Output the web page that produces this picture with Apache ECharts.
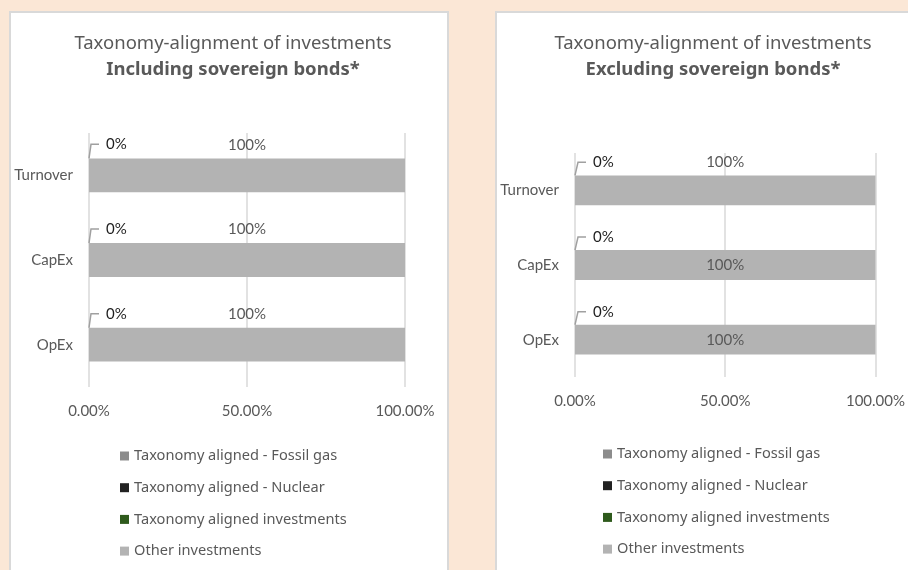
<!DOCTYPE html>
<html lang="en">
<head>
    <meta charset="UTF-8">
    <title>Taxonomy-alignment of investments</title>
    <script src="https://cdn.jsdelivr.net/npm/echarts@6/dist/echarts.min.js"></script>
    <style>
        html, body { margin: 0; padding: 0; }
        #main { width: 908px; height: 570px; }
    </style>
</head>
<body>
    <div id="main"></div>
    <script>
        // chart data
        var categories = ['Turnover', 'CapEx', 'OpEx'];
        var seriesNames = ['Taxonomy aligned - Fossil gas', 'Taxonomy aligned - Nuclear', 'Taxonomy aligned investments', 'Other investments'];

        // including sovereign bonds
        var fossilIncl = [0, 0, 0];
        var nuclearIncl = [0, 0, 0];
        var alignedIncl = [0, 0, 0];
        var otherIncl = [100, 100, 100];

        // excluding sovereign bonds
        var fossilExcl = [0, 0, 0];
        var nuclearExcl = [0, 0, 0];
        var alignedExcl = [0, 0, 0];
        var otherExcl = [100, 100, 100];

        var axisTicks = [0, 50, 100];

        var colors = ['#8c8c8c', '#222222', '#2e5a1c', '#b3b3b3'];
        var grey = '#595959';

        function makeSeries(gridIdx, arrays, otherLabelPos, lblDx, lblDy) {
            var list = [];
            for (var i = 0; i < arrays.length; i++) {
                var s = {
                    name: seriesNames[i],
                    type: 'bar',
                    stack: 'total' + gridIdx,
                    xAxisIndex: gridIdx,
                    yAxisIndex: gridIdx,
                    barWidth: '40%',
                    itemStyle: { color: colors[i] },
                    data: arrays[i].slice()
                };
                if (i === 2) {
                    // the 0% labels, pulled up-right with a leader line
                    // (empty rich box in front keeps a gap between line and text)
                    s.label = {
                        show: true,
                        position: 'right',
                        distance: 5,
                        color: '#1f1f1f',
                        fontFamily: 'Lato',
                        fontSize: 15,
                        formatter: function (p) { return '{gap|}' + p.value + '%'; },
                        rich: { gap: { width: 7 } }
                    };
                    s.labelLayout = { dx: lblDx, dy: lblDy };
                    s.labelLine = { show: true, length2: 8, lineStyle: { color: '#a0a0a0', width: 1.5 } };
                }
                if (i === 3) {
                    s.label = {
                        show: true,
                        distance: 6,
                        color: grey,
                        fontFamily: 'Lato',
                        fontSize: 15,
                        formatter: function (p) { return p.value + '%'; }
                    };
                    s.data = arrays[i].map(function (v, k) {
                        return { value: v, label: { position: otherLabelPos[k] } };
                    });
                }
                list.push(s);
            }
            return list;
        }

        function xAxisFor(gridIdx) {
            return {
                type: 'value',
                gridIndex: gridIdx,
                min: axisTicks[0],
                max: axisTicks[axisTicks.length - 1],
                interval: axisTicks[1] - axisTicks[0],
                axisLine: { show: false },
                axisTick: { show: false },
                splitLine: { show: true, lineStyle: { color: '#d9d9d9', width: 1.5 } },
                axisLabel: {
                    color: grey,
                    fontFamily: 'Lato',
                    fontSize: 15,
                    margin: 17,
                    formatter: function (v) { return v.toFixed(2) + '%'; }
                }
            };
        }

        function yAxisFor(gridIdx) {
            return {
                type: 'category',
                gridIndex: gridIdx,
                inverse: true,
                data: categories,
                axisLine: { show: false },
                axisTick: { show: false },
                axisLabel: { color: grey, fontFamily: 'Lato', fontSize: 15, margin: 16 }
            };
        }

        function titleFor(x, sub) {
            return {
                left: x,
                top: 26,
                textAlign: 'center',
                text: '{a|Taxonomy-alignment of investments}\n{b|' + sub + '}',
                textStyle: {
                    rich: {
                        a: { fontFamily: 'Noto Sans', fontSize: 18.5, fontWeight: 'normal', color: grey, lineHeight: 26 },
                        b: { fontFamily: 'Noto Sans', fontSize: 18.5, fontWeight: 'bold', color: grey, lineHeight: 26 }
                    }
                }
            };
        }

        function legendFor(x, y, gap) {
            return {
                orient: 'vertical',
                left: x,
                top: y,
                padding: 0,
                itemWidth: 9,
                itemHeight: 9,
                itemGap: gap,
                icon: 'rect',
                data: seriesNames,
                textStyle: { color: grey, fontFamily: 'Noto Sans', fontSize: 14.6, lineHeight: 16 }
            };
        }

        var myChart = echarts.init(document.getElementById('main'));
        var option = {
            backgroundColor: '#fbe7d6',
            animation: false,
            graphic: [
                { type: 'rect', z: -1, shape: { x: 10, y: 12, width: 438, height: 600 },
                  style: { fill: '#ffffff', stroke: '#d9d9d9', lineWidth: 2 } },
                { type: 'rect', z: -1, shape: { x: 496, y: 12, width: 460, height: 600 },
                  style: { fill: '#ffffff', stroke: '#d9d9d9', lineWidth: 2 } }
            ],
            title: [
                titleFor(228, 'Including sovereign bonds*'),
                titleFor(708, 'Excluding sovereign bonds*')
            ],
            legend: [
                legendFor(120, 448, 15.7),
                legendFor(603, 446, 15.7)
            ],
            grid: [
                { left: 89, right: 503, top: 133, height: 254 },
                { left: 575, right: 28, top: 153, height: 224 }
            ],
            xAxis: [xAxisFor(0), xAxisFor(1)],
            yAxis: [yAxisFor(0), yAxisFor(1)],
            series: [].concat(
                makeSeries(0, [fossilIncl, nuclearIncl, alignedIncl, otherIncl], ['top', 'top', 'top'], 5, -31),
                makeSeries(1, [fossilExcl, nuclearExcl, alignedExcl, otherExcl], ['top', 'inside', 'inside'], 6, -28)
            )
        };
        myChart.setOption(option);
    </script>
</body>
</html>
